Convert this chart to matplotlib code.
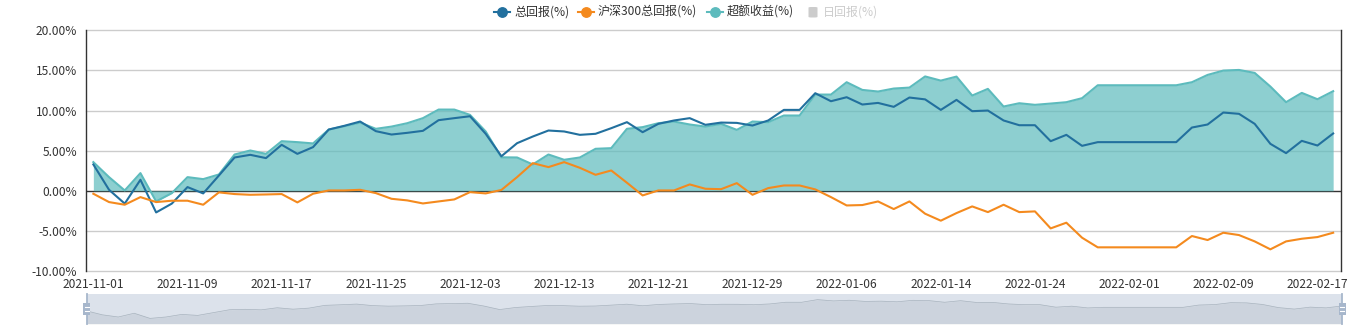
"""
Portfolio vs CSI 300 cumulative return (ECharts-style line/area chart with data zoom bar).
"""

import numpy as np
import pandas as pd
import matplotlib.pyplot as plt
from matplotlib.lines import Line2D
from matplotlib.patches import Rectangle, FancyBboxPatch

# ── data ─────────────────────────────────────────────────────────
dates = pd.bdate_range("2021-11-01", "2022-02-18").strftime("%Y-%m-%d").tolist()

total_ret = [
    3.28, 0.12, -1.60, 1.37, -2.70, -1.60, 0.46, -0.33, 1.90, 4.15,
    4.48, 4.07, 5.73, 4.60, 5.44, 7.63, 8.10, 8.63, 7.43, 7.01,
    7.22, 7.47, 8.80, 9.05, 9.29, 7.10, 4.30, 5.93, 6.76, 7.51,
    7.39, 6.97, 7.10, 7.80, 8.55, 7.30, 8.34, 8.76, 9.05, 8.22,
    8.50, 8.46, 8.13, 8.76, 10.08, 10.08, 12.16, 11.16, 11.66, 10.75,
    10.95, 10.46, 11.62, 11.39, 10.08, 11.33, 9.92, 10.00, 8.76, 8.17,
    8.17, 6.18, 6.97, 5.60, 6.06, 6.06, 6.06, 6.06, 6.06, 6.06,
    7.88, 8.26, 9.75, 9.59, 8.34, 5.85, 4.69, 6.22, 5.64, 7.14,
]

hs300_ret = [
    -0.37, -1.41, -1.74, -0.79, -1.41, -1.24, -1.24, -1.74, -0.20, -0.41,
    -0.50, -0.46, -0.41, -1.45, -0.37, 0.04, 0.04, 0.12, -0.29, -1.00,
    -1.20, -1.58, -1.33, -1.08, -0.17, -0.33, 0.10, 1.70, 3.44, 2.95,
    3.57, 2.86, 1.99, 2.53, 1.00, -0.58, 0.04, 0.04, 0.79, 0.25,
    0.20, 0.95, -0.50, 0.33, 0.66, 0.66, 0.17, -0.79, -1.83, -1.78,
    -1.33, -2.28, -1.33, -2.86, -3.73, -2.78, -1.95, -2.66, -1.74, -2.66,
    -2.57, -4.69, -3.98, -5.85, -7.05, -7.05, -7.05, -7.05, -7.05, -7.05,
    -5.64, -6.14, -5.23, -5.52, -6.31, -7.30, -6.31, -5.98, -5.77, -5.23,
]

excess_ret = [
    3.57, 1.70, 0.04, 2.20, -1.33, -0.30, 1.70, 1.45, 2.03, 4.52,
    5.02, 4.60, 6.18, 6.06, 5.90, 7.63, 8.05, 8.50, 7.72, 8.00,
    8.42, 9.05, 10.12, 10.12, 9.46, 7.39, 4.17, 4.15, 3.28, 4.52,
    3.86, 4.15, 5.23, 5.31, 7.72, 7.93, 8.42, 8.63, 8.26, 8.00,
    8.34, 7.59, 8.63, 8.55, 9.38, 9.38, 11.99, 11.99, 13.53, 12.57,
    12.37, 12.74, 12.86, 14.25, 13.73, 14.23, 11.87, 12.70, 10.50, 10.91,
    10.71, 10.87, 11.04, 11.54, 13.15, 13.15, 13.15, 13.15, 13.15, 13.15,
    13.53, 14.44, 14.98, 15.06, 14.69, 12.99, 11.04, 12.20, 11.41, 12.41,
]

series_names = ["总回报(%)", "沪深300总回报(%)", "超额收益(%)", "日回报(%)"]
y_ticks = [-10, -5, 0, 5, 10, 15, 20]

BLUE = "#22709e"
ORANGE = "#f48a1e"
TEAL = "#5dbbbd"
TEXT = "#333333"
W, H = 1371, 331
FS = 8.64  # 12 px


def fx(px):
    return px / W


def fy(py):
    return 1 - py / H


def main() -> None:
    plt.rcParams["font.family"] = ["Noto Sans CJK SC", "DejaVu Sans"]
    fig = plt.figure(figsize=(W / 100, H / 100), dpi=100)

    # ── main plot ────────────────────────────────────────────────
    ax = fig.add_axes([fx(85.5), fy(271), fx(1341) - fx(85.5), fy(30.3) - fy(271)])
    x = np.arange(len(dates))

    for v in y_ticks:
        if v != 0:
            ax.axhline(v, color="#cccccc", lw=1, zorder=1, clip_on=False)
    ax.axhline(0, color=TEXT, lw=1, zorder=1.5)

    ax.fill_between(x, 0, excess_ret, color=TEAL, alpha=0.7, lw=0, zorder=2)
    ax.plot(x, excess_ret, color=TEAL, lw=1.5, zorder=3)
    ax.plot(x, total_ret, color=BLUE, lw=1.5, zorder=4)
    ax.plot(x, hs300_ret, color=ORANGE, lw=1.5, zorder=4)

    ax.set_xlim(-0.5, len(dates) - 0.5)
    ax.set_ylim(-10, 20)
    ax.set_yticks(y_ticks)
    ax.set_yticklabels([f"{v:.2f}%" for v in y_ticks])
    tick_idx = list(range(0, len(dates), 6))
    ax.set_xticks(tick_idx)
    ax.set_xticklabels([dates[i] for i in tick_idx])
    ax.tick_params(axis="y", length=0, pad=6, labelsize=FS, labelcolor=TEXT)
    ax.tick_params(axis="x", length=0, pad=5, labelsize=FS, labelcolor=TEXT)

    for side in ["top", "bottom"]:
        ax.spines[side].set_visible(False)
    for side in ["left", "right"]:
        ax.spines[side].set_color(TEXT)
        ax.spines[side].set_linewidth(1)
        ax.spines[side].set_zorder(5)

    # ── legend (drawn by hand, ECharts style) ────────────────────
    leg_y = fy(12)
    items = [(BLUE, 501.5, 514), (ORANGE, 585.5, 598), (TEAL, 714.5, 727)]
    for (col, cx, tx), name in zip(items, series_names[:3]):
        fig.add_artist(Line2D([fx(cx - 8), fx(cx + 8)], [leg_y, leg_y],
                              color=col, lw=1.5, transform=fig.transFigure))
        fig.add_artist(Line2D([fx(cx)], [leg_y], marker="o", ms=6.8, color=col,
                              transform=fig.transFigure))
        fig.text(fx(tx), leg_y, name, fontsize=FS, color=TEXT, va="center", ha="left")
    fig.add_artist(FancyBboxPatch((fx(808.5), fy(17.5)), fx(9), fy(0) - fy(10.5),
                                  boxstyle="round,pad=0,rounding_size=0.002",
                                  transform=fig.transFigure, color="#cccccc", lw=0))
    fig.text(fx(823), leg_y, series_names[3], fontsize=FS, color="#cccccc",
             va="center", ha="left")

    # ── data zoom slider ─────────────────────────────────────────
    sx0, sx1, sy0, sy1 = 86.5, 1342, 294, 324
    axz = fig.add_axes([fx(sx0), fy(sy1), fx(sx1) - fx(sx0), fy(sy0) - fy(sy1)])
    axz.set_facecolor("#dce2eb")
    lo, hi = min(total_ret), max(total_ret)
    off = (hi - lo) * 0.3
    axz.set_xlim(0, len(dates) - 1)
    axz.set_ylim(lo - off, hi + off)
    axz.fill_between(x, lo - off, total_ret, color="#2f4554", alpha=0.09, lw=0)
    axz.plot(x, total_ret, color="#2f4554", alpha=0.3, lw=0.5)
    axz.set_xticks([])
    axz.set_yticks([])
    for s in axz.spines.values():
        s.set_visible(False)

    for hx in (sx0, sx1):
        fig.add_artist(Line2D([fx(hx), fx(hx)], [fy(sy0), fy(sy1)], color="#a7b7cc",
                              lw=1.3, transform=fig.transFigure))
        fig.add_artist(Rectangle((fx(hx - 3.5), fy(315)), fx(7), fy(0) - fy(12.5),
                                 transform=fig.transFigure, color="#a7b7cc", lw=0))
        for by in (307, 310.5):
            fig.add_artist(Line2D([fx(hx - 2), fx(hx + 2)], [fy(by), fy(by)],
                                  color="white", lw=0.8, transform=fig.transFigure))

    fig.savefig("out.png", dpi=100)


if __name__ == "__main__":
    main()
